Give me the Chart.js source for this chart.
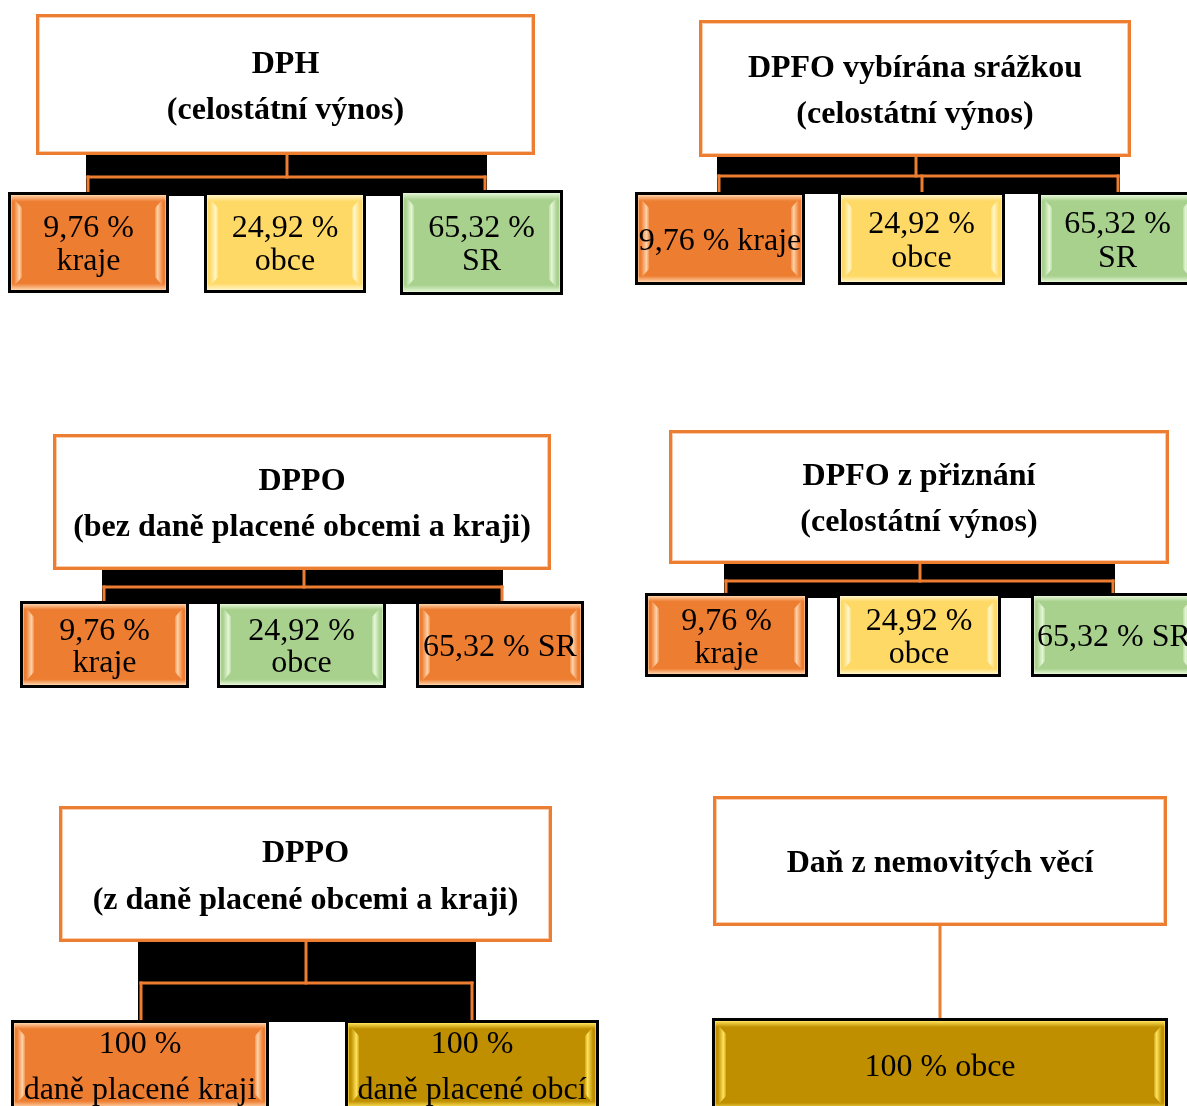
<!DOCTYPE html>
<html lang="cs">
<head>
<meta charset="utf-8">
<title>Rozpočtové určení daní</title>
<script src="https://cdn.jsdelivr.net/npm/chart.js@4.4.1/dist/chart.umd.min.js"></script>
<style>
  html, body { margin: 0; padding: 0; background: #ffffff; overflow: hidden; }
  #wrap { position: relative; width: 1187px; height: 1106px; }
</style>
</head>
<body>
<div id="wrap"><canvas id="scheme" width="1187" height="1106"></canvas></div>
<script>
/* ── Data: tax titles, shares and recipients ── */
var panelTitles = [
  ['DPH', '(celostátní výnos)'],
  ['DPFO vybírána srážkou', '(celostátní výnos)'],
  ['DPPO', '(bez daně placené obcemi a kraji)'],
  ['DPFO z přiznání', '(celostátní výnos)'],
  ['DPPO', '(z daně placené obcemi a kraji)'],
  ['Daň z nemovitých věcí']
];
var shareValues = [
  [9.76, 24.92, 65.32],
  [9.76, 24.92, 65.32],
  [9.76, 24.92, 65.32],
  [9.76, 24.92, 65.32],
  [100, 100],
  [100]
];
var shareRecipients = [
  ['kraje', 'obce', 'SR'],
  ['kraje', 'obce', 'SR'],
  ['kraje', 'obce', 'SR'],
  ['kraje', 'obce', 'SR'],
  ['daně placené kraji', 'daně placené obcí'],
  ['obce']
];

/* ── Styles ── */
var FILL = { orange: '#ED7D31', yellow: '#FFD966', green: '#A9D18E', gold: '#BF8F00' };
var GLOW = { orange: '#FFD2A8', yellow: '#FFF6C8', green: '#E4F7D6', gold: '#FFE35A' };
var shareFills = [
  ['orange', 'yellow', 'green'],
  ['orange', 'yellow', 'green'],
  ['orange', 'green', 'orange'],
  ['orange', 'yellow', 'green'],
  ['orange', 'gold'],
  ['gold']
];
var ORANGE_LINE = '#ED7D31';
var TITLE_FONT = 'bold 32px "Liberation Serif", "Times New Roman", serif';
var SHARE_FONT = '32px "Liberation Serif", "Times New Roman", serif';
var TEXT_SHIFT = 3;

/* ── Layout (page units, mapped through the chart scales) ── */
var panelLayout = [
  { head: [36, 14, 535, 155], band: [86, 155, 487, 196], titleGap: 46, lineGap: 33,
    links: [[287, 155, 287, 177], [88, 177, 485, 177], [88, 177, 88, 192], [485, 177, 485, 192]],
    boxes: [[8, 192, 169, 293], [204, 192, 366, 293], [400, 190, 563, 295]],
    wrap: [true, true, true] },
  { head: [699, 20, 1131, 157], band: [717, 157, 1120, 194], titleGap: 46, lineGap: 34,
    links: [[916, 157, 916, 176], [719, 176, 1118, 176], [719, 176, 719, 192], [922, 176, 922, 192], [1118, 176, 1118, 192]],
    boxes: [[635, 192, 805, 285], [838, 192, 1005, 285], [1038, 192, 1197, 285]],
    wrap: [false, true, true] },
  { head: [53, 434, 551, 570], band: [102, 570, 503, 604], titleGap: 46, lineGap: 32,
    links: [[304, 570, 304, 587], [104, 587, 502, 587], [104, 587, 104, 602], [502, 587, 502, 602]],
    boxes: [[20, 601, 189, 688], [217, 601, 386, 688], [416, 601, 584, 688]],
    wrap: [true, true, false] },
  { head: [669, 430, 1169, 564], band: [724, 564, 1115, 598], titleGap: 46, lineGap: 33,
    links: [[920, 564, 920, 581], [726, 581, 1113, 581], [726, 581, 726, 594], [1113, 581, 1113, 594]],
    boxes: [[645, 593, 808, 677], [837, 593, 1001, 677], [1031, 593, 1197, 677]],
    wrap: [true, true, false] },
  { head: [59, 806, 552, 942], band: [138, 942, 476, 1022], titleGap: 47, lineGap: 46,
    links: [[306, 942, 306, 983], [141, 983, 472, 983], [141, 983, 141, 1020], [472, 983, 472, 1020]],
    boxes: [[11, 1020, 269, 1110], [345, 1020, 599, 1110]],
    wrap: [true, true] },
  { head: [713, 796, 1167, 926], band: null, titleGap: 46, lineGap: 46,
    links: [[940, 926, 940, 1018]],
    boxes: [[712, 1018, 1168, 1112]],
    wrap: [false] }
];

/* ── Helpers ── */
function fmtShare(v) {
  return String(v).replace('.', ',') + ' %';
}

function shareLines(p, i) {
  var pct = fmtShare(shareValues[p][i]);
  var who = shareRecipients[p][i];
  return panelLayout[p].wrap[i] ? [pct, who] : [pct + ' ' + who];
}

function drawLines(ctx, lines, cx, cy, gap) {
  var top = cy + TEXT_SHIFT - gap * (lines.length - 1) / 2;
  lines.forEach(function(t, k) { ctx.fillText(t, cx, top + k * gap); });
}

function drawShareBox(ctx, x0, y0, x1, y1, key) {
  var w = x1 - x0, h = y1 - y0;
  var base = FILL[key], glow = GLOW[key];
  ctx.fillStyle = '#000';
  ctx.fillRect(x0, y0, w, h);
  // soft lighter rim just inside the black frame
  var g = ctx.createLinearGradient(0, y0 + 3, 0, y1 - 3);
  g.addColorStop(0, glow);
  g.addColorStop(0.07, base);
  g.addColorStop(0.93, base);
  g.addColorStop(1, glow);
  ctx.fillStyle = g;
  ctx.fillRect(x0 + 3, y0 + 3, w - 6, h - 6);
  ctx.strokeStyle = glow;
  ctx.globalAlpha = 0.6;
  ctx.lineWidth = 1;
  ctx.strokeRect(x0 + 3.5, y0 + 3.5, w - 7, h - 7);
  ctx.globalAlpha = 1;
  // bevel strips on the sides
  [[x0 + 6, 1], [x1 - 6, -1]].forEach(function(s) {
    var sx = s[0], d = s[1];
    var sg = ctx.createLinearGradient(sx, 0, sx + d * 9, 0);
    sg.addColorStop(0, base);
    sg.addColorStop(0.6, glow);
    sg.addColorStop(1, base);
    ctx.fillStyle = sg;
    ctx.beginPath();
    ctx.moveTo(sx, y0 + 7);
    ctx.lineTo(sx + d * 8, y0 + 16);
    ctx.lineTo(sx + d * 8, y1 - 16);
    ctx.lineTo(sx, y1 - 7);
    ctx.closePath();
    ctx.fill();
  });
}

/* ── Plugin drawing the scheme through the chart scales ── */
var schemePlugin = {
  id: 'scheme',
  afterDraw: function(chart) {
    var ctx = chart.ctx;
    var sx = chart.scales.x, sy = chart.scales.y;
    function px(v) { return sx.getPixelForValue(v); }
    function py(v) { return sy.getPixelForValue(v); }

    ctx.save();
    ctx.textAlign = 'center';
    ctx.textBaseline = 'middle';

    panelLayout.forEach(function(L, p) {
      // black band behind the connectors
      if (L.band) {
        ctx.fillStyle = '#000';
        ctx.fillRect(px(L.band[0]), py(L.band[1]), px(L.band[2]) - px(L.band[0]), py(L.band[3]) - py(L.band[1]));
      }
      // connectors
      ctx.strokeStyle = ORANGE_LINE;
      ctx.lineWidth = 3;
      ctx.lineCap = 'square';
      L.links.forEach(function(s) {
        ctx.beginPath();
        ctx.moveTo(px(s[0]), py(s[1]));
        ctx.lineTo(px(s[2]), py(s[3]));
        ctx.stroke();
      });
      // header box
      var h = L.head;
      var hx = px(h[0]), hy = py(h[1]), hw = px(h[2]) - hx, hh = py(h[3]) - hy;
      ctx.fillStyle = '#fff';
      ctx.fillRect(hx, hy, hw, hh);
      ctx.strokeStyle = ORANGE_LINE;
      ctx.lineWidth = 3;
      ctx.strokeRect(hx + 1.5, hy + 1.5, hw - 3, hh - 3);
      ctx.strokeStyle = '#F8CBAD';
      ctx.lineWidth = 1;
      ctx.strokeRect(hx + 3.5, hy + 3.5, hw - 7, hh - 7);
      ctx.fillStyle = '#000';
      ctx.font = TITLE_FONT;
      drawLines(ctx, panelTitles[p], hx + hw / 2, hy + hh / 2, L.titleGap);

      // share boxes
      L.boxes.forEach(function(b, i) {
        var x0 = px(b[0]), y0 = py(b[1]), x1 = px(b[2]), y1 = py(b[3]);
        drawShareBox(ctx, x0, y0, x1, y1, shareFills[p][i]);
        ctx.fillStyle = '#000';
        ctx.font = SHARE_FONT;
        drawLines(ctx, shareLines(p, i), (x0 + x1) / 2, (y0 + y1) / 2, L.lineGap);
      });
    });
    ctx.restore();
  }
};

new Chart(document.getElementById('scheme').getContext('2d'), {
  type: 'scatter',
  data: { datasets: [{ data: [], pointRadius: 0 }] },
  options: {
    responsive: false,
    animation: false,
    events: [],
    layout: { padding: 0 },
    scales: {
      x: { type: 'linear', min: 0, max: 1187, display: false },
      y: { type: 'linear', min: 0, max: 1106, reverse: true, display: false }
    },
    plugins: { legend: { display: false }, tooltip: { enabled: false } }
  },
  plugins: [schemePlugin]
});
</script>
</body>
</html>
